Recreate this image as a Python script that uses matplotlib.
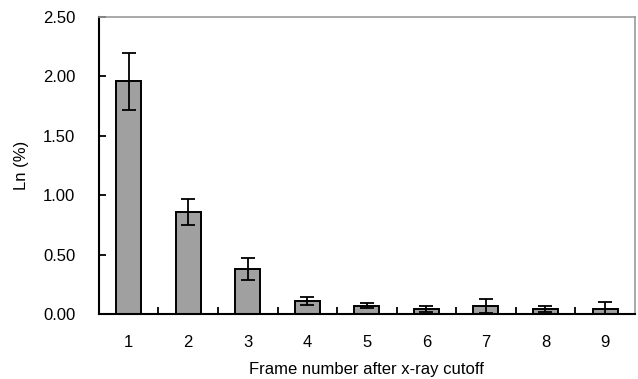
import numpy as np
import matplotlib.pyplot as plt

# frame numbers after cutoff and measured lag (%)
frames = [1, 2, 3, 4, 5, 6, 7, 8, 9]
ln_mean = [1.96, 0.86, 0.38, 0.11, 0.07, 0.04, 0.065, 0.04, 0.04]
ln_err = [0.24, 0.11, 0.09, 0.035, 0.02, 0.025, 0.06, 0.025, 0.06]
yticks = [0.0, 0.5, 1.0, 1.5, 2.0, 2.5]

plt.rcParams['font.family'] = ['Liberation Sans', 'DejaVu Sans']

fig = plt.figure(figsize=(6.38, 3.79), dpi=100)
ax = fig.add_axes([0.155, 0.1715, 0.84, 0.7835])

ax.bar(frames, ln_mean, width=0.42, color='#a0a0a0', edgecolor='black',
	linewidth=1.4, zorder=2)
ax.errorbar(frames, ln_mean, yerr=ln_err, fmt='none', ecolor='black',
	elinewidth=1.3, capsize=5, capthick=1.3, zorder=3)

ax.set_xlim(0.5, 9.5)
ax.set_ylim(0, 2.5)
ax.set_yticks(yticks)
ax.set_yticklabels(['%.2f' % v for v in yticks])
ax.set_xticks(frames)
ax.set_xticks(np.arange(1.5, 9.5, 1), minor=True)
ax.tick_params(axis='x', which='major', length=0, pad=15, labelsize=12)
ax.tick_params(axis='x', which='minor', direction='in', length=5, width=1.3)
ax.tick_params(axis='y', direction='in', length=5, width=1.3, pad=17, labelsize=12)

for s in ['left', 'bottom']:
	ax.spines[s].set_linewidth(1.5)
	ax.spines[s].set_color('black')
for s in ['top', 'right']:
	ax.spines[s].set_linewidth(1.2)
	ax.spines[s].set_color('#9a9a9a')

ax.set_xlabel('Frame number after x-ray cutoff', fontsize=12, labelpad=8.5)
ax.set_ylabel('Ln (%)', fontsize=12, labelpad=10)

fig.savefig('out.png', dpi=100)
